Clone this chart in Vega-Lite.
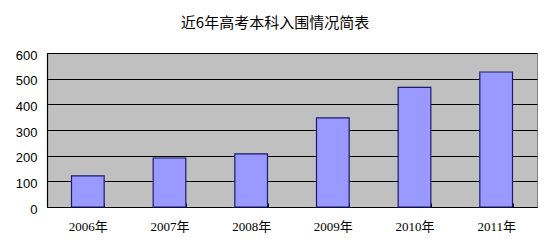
{
  "$schema": "https://vega.github.io/schema/vega-lite/v6.json",
  "autosize": {"type": "none"},
  "width": 490,
  "height": 154,
  "padding": {"left": 47, "top": 53, "right": 13, "bottom": 43},
  "background": "white",
  "title": {
    "text": "近6年高考本科入围情况简表",
    "font": "Noto Sans CJK SC",
    "fontSize": 15,
    "fontWeight": "normal",
    "color": "#000000",
    "anchor": "middle",
    "dx": -17,
    "offset": 18
  },
  "data": {
    "values": [
      {"year": "2006年", "value": 121},
      {"year": "2007年", "value": 191},
      {"year": "2008年", "value": 207},
      {"year": "2009年", "value": 347},
      {"year": "2010年", "value": 466},
      {"year": "2011年", "value": 526}
    ]
  },
  "mark": {"type": "bar", "fill": "#9999FF", "stroke": "#1a1a6e", "strokeWidth": 1.2},
  "encoding": {
    "x": {
      "field": "year",
      "type": "nominal",
      "sort": null,
      "title": null,
      "scale": {"paddingInner": 0.6, "paddingOuter": 0.3},
      "axis": {
        "labelAngle": 0,
        "labelFont": "Liberation Serif, Noto Sans CJK SC",
        "labelFontSize": 13,
        "labelColor": "#000000",
        "labelPadding": 17,
        "tickBand": "extent",
        "tickSize": -4,
        "tickColor": "#000000",
        "domainColor": "#000000",
        "domainWidth": 1.2
      }
    },
    "y": {
      "field": "value",
      "type": "quantitative",
      "title": null,
      "scale": {"domain": [0, 600], "nice": false},
      "axis": {
        "values": [0, 100, 200, 300, 400, 500, 600],
        "labelFont": "Liberation Sans",
        "labelFontSize": 13,
        "labelColor": "#000000",
        "labelPadding": 10,
        "labelOffset": 2,
        "ticks": false,
        "grid": true,
        "gridColor": "#000000",
        "gridWidth": 1,
        "gridOpacity": 1,
        "domainColor": "#000000",
        "domainWidth": 1.2
      }
    }
  },
  "config": {
    "view": {"fill": "#C0C0C0", "stroke": "#808080", "strokeWidth": 1}
  }
}
